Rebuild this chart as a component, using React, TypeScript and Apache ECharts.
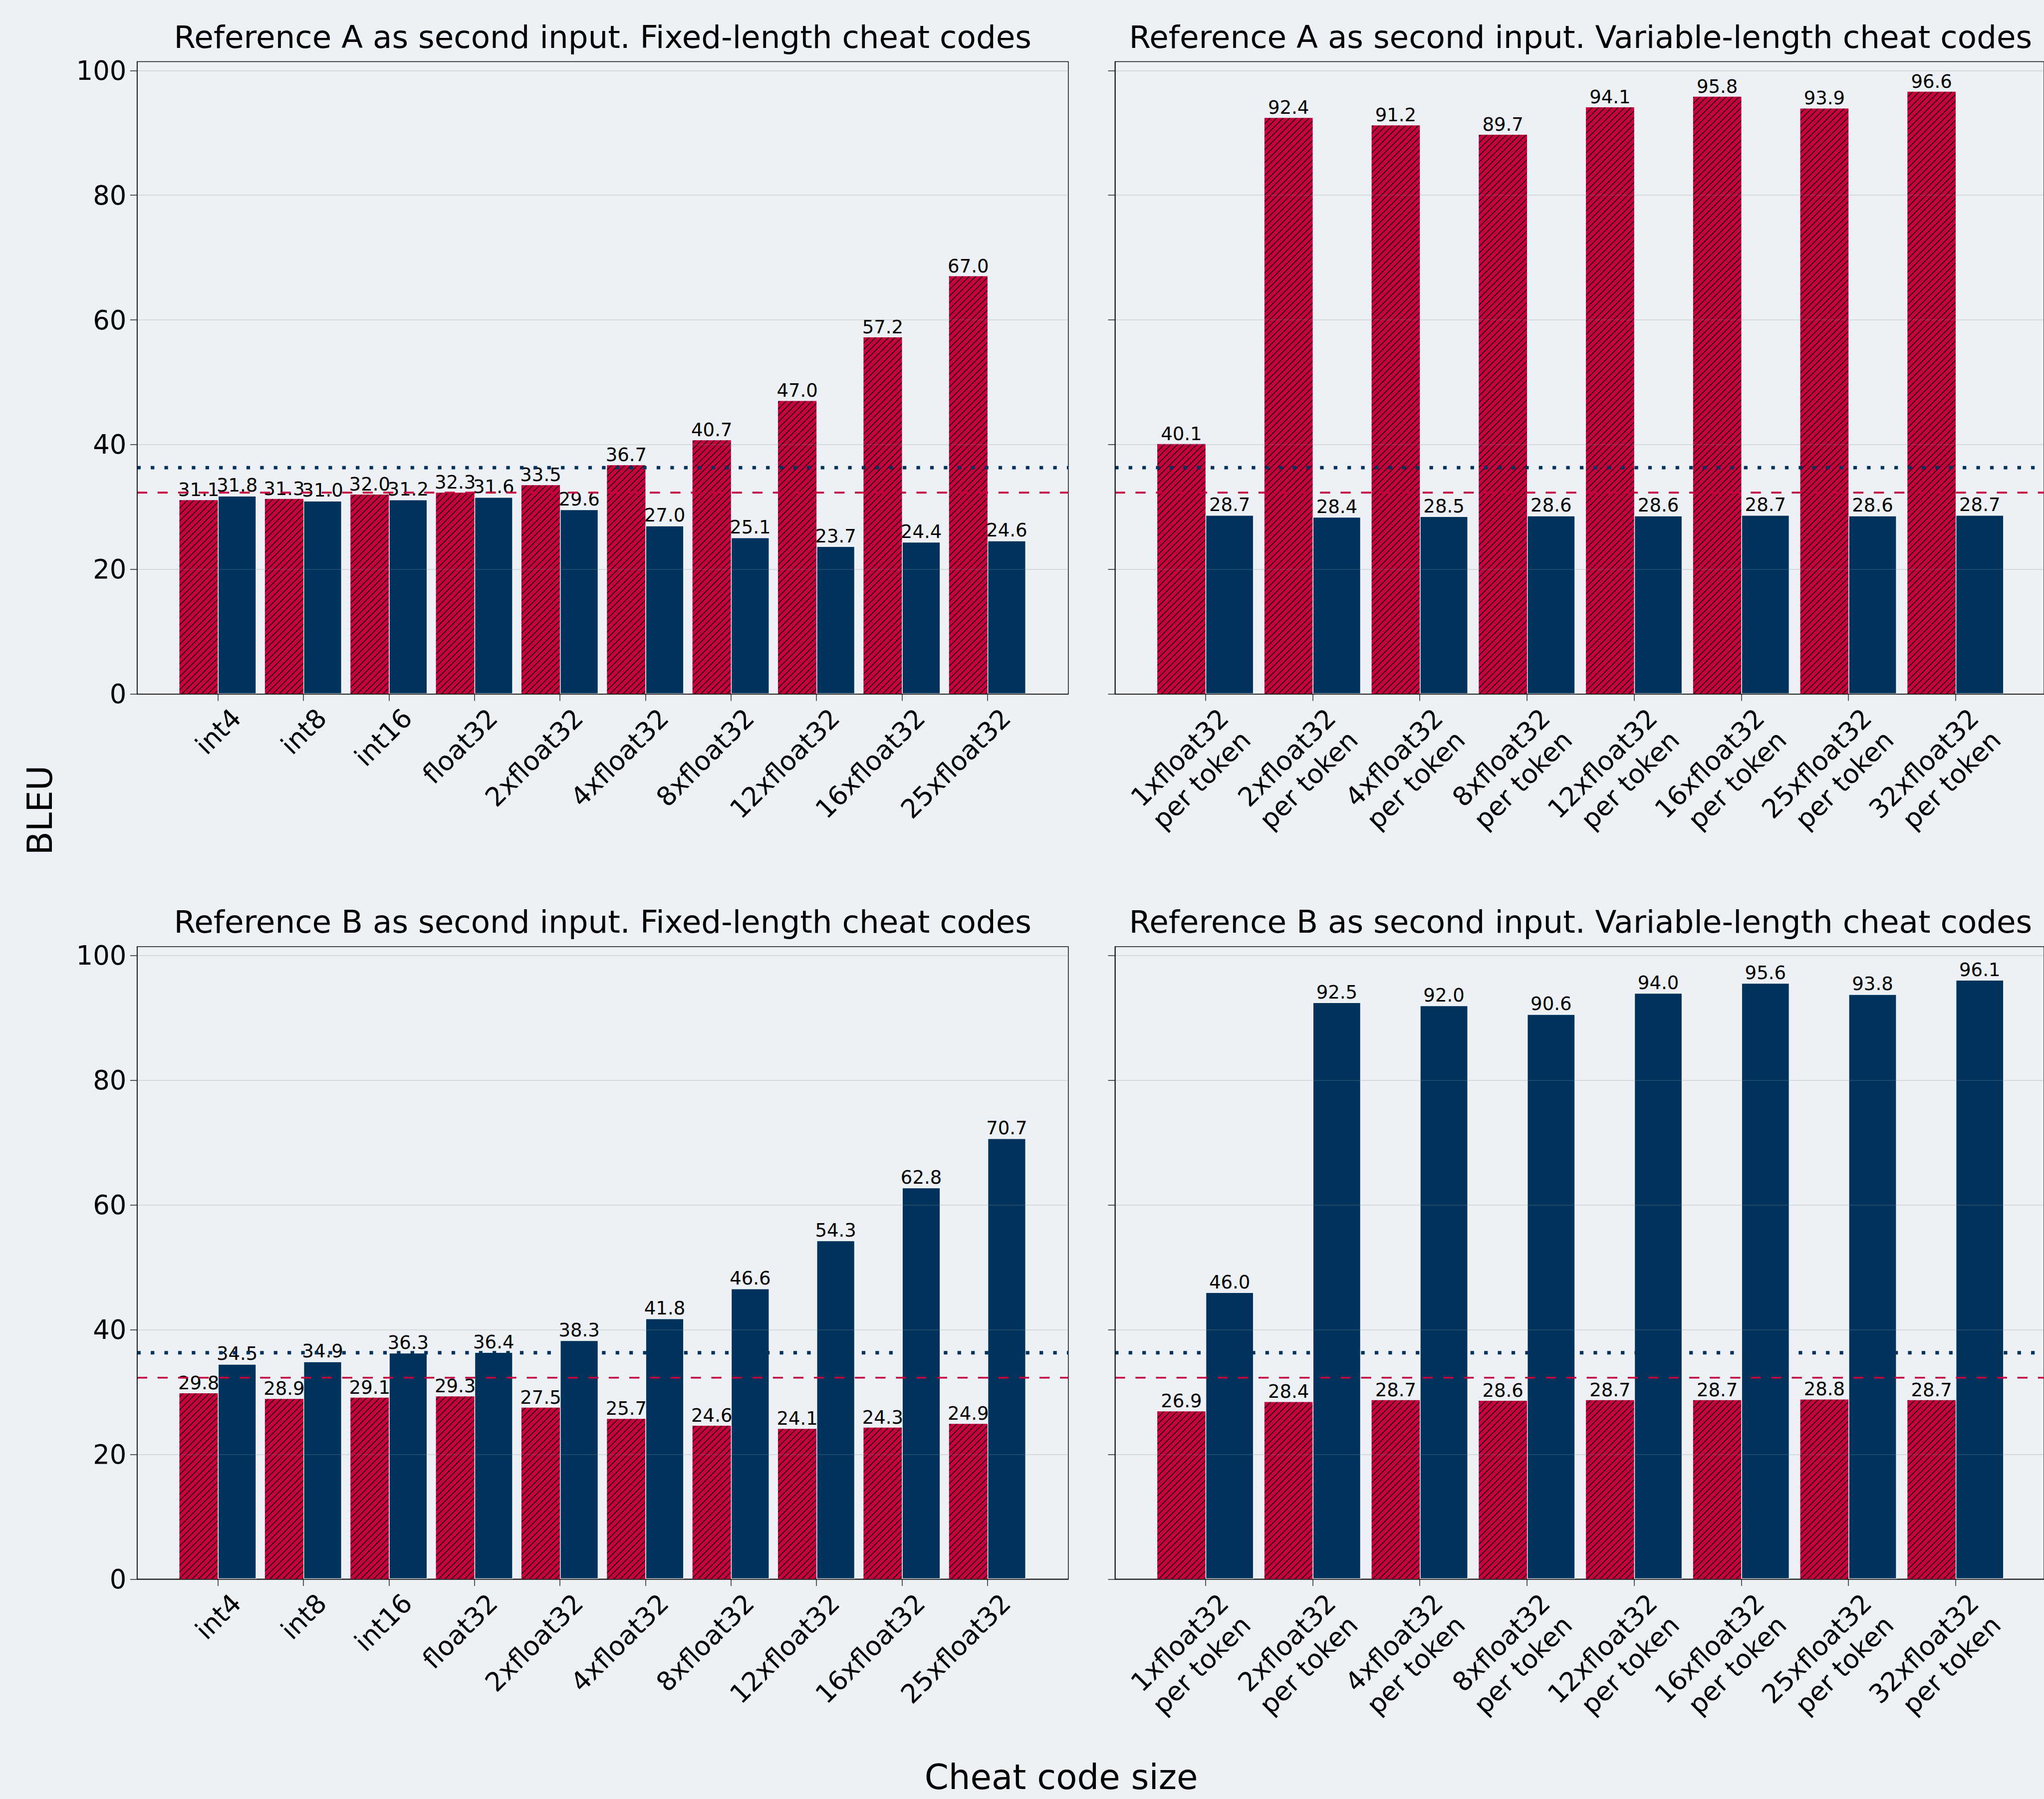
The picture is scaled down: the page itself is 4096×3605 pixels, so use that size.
import React, { useEffect, useRef } from 'react';
import * as echarts from 'echarts';

// ---------------- data ----------------
const fixedCategories = ['int4', 'int8', 'int16', 'float32', '2xfloat32', '4xfloat32', '8xfloat32', '12xfloat32', '16xfloat32', '25xfloat32'];
const variableSizes = ['1xfloat32', '2xfloat32', '4xfloat32', '8xfloat32', '12xfloat32', '16xfloat32', '25xfloat32', '32xfloat32'];
const variableCategories = variableSizes.map((s) => s + '\nper token');

// red hatched = BLEU against reference A, navy = BLEU against reference B
const fixedRefA_vsA = [31.1, 31.3, 32.0, 32.3, 33.5, 36.7, 40.7, 47.0, 57.2, 67.0];
const fixedRefA_vsB = [31.8, 31.0, 31.2, 31.6, 29.6, 27.0, 25.1, 23.7, 24.4, 24.6];
const variableRefA_vsA = [40.1, 92.4, 91.2, 89.7, 94.1, 95.8, 93.9, 96.6];
const variableRefA_vsB = [28.7, 28.4, 28.5, 28.6, 28.6, 28.7, 28.6, 28.7];
const fixedRefB_vsA = [29.8, 28.9, 29.1, 29.3, 27.5, 25.7, 24.6, 24.1, 24.3, 24.9];
const fixedRefB_vsB = [34.5, 34.9, 36.3, 36.4, 38.3, 41.8, 46.6, 54.3, 62.8, 70.7];
const variableRefB_vsA = [26.9, 28.4, 28.7, 28.6, 28.7, 28.7, 28.8, 28.7];
const variableRefB_vsB = [46.0, 92.5, 92.0, 90.6, 94.0, 95.6, 93.8, 96.1];

const baselineVsA = 32.3; // red dashed
const baselineVsB = 36.3; // navy dotted

const yTicks = [0, 20, 40, 60, 80, 100];
const Y_MAX = 101.43;

const titles = [
  'Reference A as second input. Fixed-length cheat codes',
  'Reference A as second input. Variable-length cheat codes',
  'Reference B as second input. Fixed-length cheat codes',
  'Reference B as second input. Variable-length cheat codes',
];

// ---------------- style / layout ----------------
const W = 4096;
const H = 3605;
const FONT = '"DejaVu Sans", "Liberation Sans", sans-serif';
const RED = '#C4003F';
const NAVY = '#00325B';
const BG = '#EDF1F5';
const GRID_C = 'rgba(140,146,152,0.32)';
const SPINE_C = '#111111';

const FRAME_W = 1866.1;
const FRAME_H = 1267.3;
const COL_X = [274.7, 2234.3];
const ROW_Y = [123.4, 1897.0];
const TICK_FS = 52.8;
const TICK_LEN = 13.8;

function makeHatch(): string {
  const S = 13;
  const c = document.createElement('canvas');
  c.width = S;
  c.height = S;
  const ctx = c.getContext('2d')!;
  ctx.fillStyle = RED;
  ctx.fillRect(0, 0, S, S);
  ctx.strokeStyle = '#000';
  ctx.lineWidth = 1.4;
  for (let k = -1; k <= 1; k++) {
    ctx.beginPath();
    ctx.moveTo(-S, S * (2 + k));
    ctx.lineTo(2 * S, S * (k - 1));
    ctx.stroke();
  }
  return c.toDataURL();
}

function buildOption(hatchUrl: string) {
  const panels = [
    { cats: fixedCategories, red: fixedRefA_vsA, blue: fixedRefA_vsB, col: 0, row: 0, m: 0.945, multi: false },
    { cats: variableCategories, red: variableRefA_vsA, blue: variableRefA_vsB, col: 1, row: 0, m: 0.845, multi: true },
    { cats: fixedCategories, red: fixedRefB_vsA, blue: fixedRefB_vsB, col: 0, row: 1, m: 0.945, multi: false },
    { cats: variableCategories, red: variableRefB_vsA, blue: variableRefB_vsB, col: 1, row: 1, m: 0.845, multi: true },
  ];

  const grid: any[] = [];
  const xAxis: any[] = [];
  const yAxis: any[] = [];
  const series: any[] = [];
  const graphic: any[] = [];

  const hatch = { image: hatchUrl, repeat: 'repeat', imageWidth: 13, imageHeight: 13 };

  panels.forEach((p, i) => {
    const n = p.cats.length;
    const u = FRAME_W / (n - 1 + 2 * p.m);
    const fx = COL_X[p.col];
    const fy = ROW_Y[p.row];
    const showY = p.col === 0;
    const gFrame = 2 * i;
    const gBars = 2 * i + 1;

    grid.push({ left: fx, top: fy, width: FRAME_W, height: FRAME_H, show: true, borderColor: SPINE_C, borderWidth: 1.5, backgroundColor: 'transparent' });
    grid.push({ left: fx + (p.m - 0.5) * u, top: fy, width: n * u, height: FRAME_H });

    xAxis.push({
      gridIndex: gFrame, type: 'value', min: -p.m, max: n - 1 + p.m, z: 6,
      axisLine: { show: true, onZero: false, lineStyle: { color: SPINE_C, width: 1.5 } },
      axisTick: { show: false }, axisLabel: { show: false }, splitLine: { show: false },
    });
    const labelCommon = {
      interval: 0, rotate: 45, align: 'right', verticalAlign: 'top', margin: 2,
      fontSize: TICK_FS, fontFamily: FONT, color: '#000',
    };
    xAxis.push({
      gridIndex: gBars, type: 'category', data: p.cats,
      axisLine: { show: false },
      axisTick: { show: true, alignWithLabel: true, length: TICK_LEN, lineStyle: { color: '#222', width: 1.5 } },
      axisLabel: p.multi
        ? {
            ...labelCommon,
            formatter: (v: string) => {
              const parts = v.split('\n');
              return '{l1|' + parts[0] + '}\n{l2|' + parts[1] + '}';
            },
            rich: {
              l1: { lineHeight: 104, fontSize: TICK_FS, fontFamily: FONT, color: '#000' },
              l2: { lineHeight: 20.6, fontSize: TICK_FS, fontFamily: FONT, color: '#000' },
            },
          }
        : { ...labelCommon, lineHeight: 104 },
      splitLine: { show: false },
    });

    yAxis.push({
      gridIndex: gFrame, type: 'value', min: 0, max: Y_MAX, interval: 20, z: 6,
      axisLine: { show: true, onZero: false, lineStyle: { color: SPINE_C, width: 1.5 } },
      axisTick: { show: true, length: TICK_LEN, customValues: yTicks, lineStyle: { color: '#222', width: 1.5 } },
      axisLabel: {
        show: showY, customValues: yTicks, margin: 21.3,
        fontSize: TICK_FS, fontFamily: FONT, color: '#000',
        formatter: (v: number) => (yTicks.indexOf(v) >= 0 ? String(v) : ''),
      },
      splitLine: { show: true, lineStyle: { color: GRID_C, width: 1.5 } },
    });
    yAxis.push({ gridIndex: gBars, type: 'value', min: 0, max: Y_MAX, show: false, splitLine: { show: false } });

    const labelStyle = {
      show: true, position: 'top', distance: 2, fontSize: 37, fontFamily: FONT, color: '#000',
      formatter: (d: any) => Number(d.value).toFixed(1),
    };
    series.push({
      name: 'BLEU vs reference A', type: 'bar', xAxisIndex: gBars, yAxisIndex: gBars,
      data: p.red, barWidth: '45%', barGap: '0%', z: 2,
      itemStyle: { color: hatch },
      label: labelStyle,
    });
    series.push({
      name: 'BLEU vs reference B', type: 'bar', xAxisIndex: gBars, yAxisIndex: gBars,
      data: p.blue, barWidth: '45%', barGap: '0%', z: 2,
      itemStyle: { color: NAVY, borderColor: 'rgba(255,255,255,0.85)', borderWidth: 1.5 },
      label: labelStyle,
    });
    series.push({
      name: 'Baseline vs reference B', type: 'line', xAxisIndex: gFrame, yAxisIndex: gFrame,
      data: [[-p.m, baselineVsB], [n - 1 + p.m, baselineVsB]], symbol: 'none', silent: true, z: 4,
      lineStyle: { color: NAVY, width: 6.9, type: [7.2, 20.2], cap: 'butt' },
    });
    series.push({
      name: 'Baseline vs reference A', type: 'line', xAxisIndex: gFrame, yAxisIndex: gFrame,
      data: [[-p.m, baselineVsA], [n - 1 + p.m, baselineVsA]], symbol: 'none', silent: true, z: 4,
      lineStyle: { color: RED, width: 3.6, type: [20.2, 20.9], cap: 'butt' },
    });

    graphic.push({
      type: 'text', x: fx + FRAME_W / 2, y: fy - 49.4, silent: true,
      style: { text: titles[i], fontSize: 62.7, fontFamily: FONT, fill: '#000', align: 'center', verticalAlign: 'middle' },
    });
  });

  graphic.push({
    type: 'text', x: 79.9, y: 1623.6, rotation: Math.PI / 2, silent: true,
    style: { text: 'BLEU', fontSize: 69, fontFamily: FONT, fill: '#000', align: 'center', verticalAlign: 'middle' },
  });
  graphic.push({
    type: 'text', x: 2126.5, y: 3560.6, silent: true,
    style: { text: 'Cheat code size', fontSize: 69, fontFamily: FONT, fill: '#000', align: 'center', verticalAlign: 'middle' },
  });

  return {
    animation: false,
    backgroundColor: BG,
    textStyle: { fontFamily: FONT },
    grid,
    xAxis,
    yAxis,
    series,
    graphic,
  };
}

export default function App() {
  const ref = useRef<HTMLDivElement>(null);
  useEffect(() => {
    if (!ref.current) return;
    const chart = echarts.init(ref.current, undefined, { renderer: 'svg', width: W, height: H });
    chart.setOption(buildOption(makeHatch()) as any);
    return () => chart.dispose();
  }, []);
  return <div ref={ref} style={{ position: 'absolute', left: 0, top: 0, width: W, height: H }} />;
}
